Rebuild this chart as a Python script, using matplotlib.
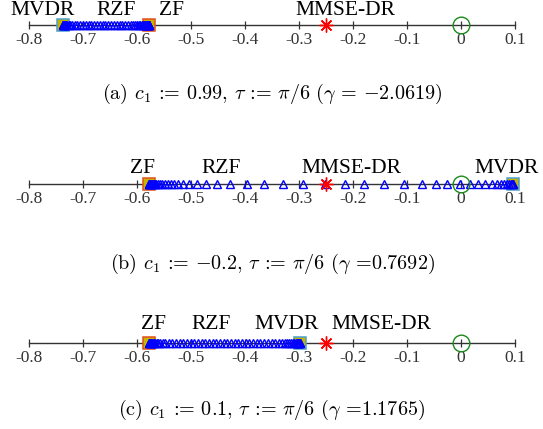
import matplotlib
matplotlib.use("Agg")
import matplotlib.pyplot as plt

plt.rcParams['axes.unicode_minus'] = False
plt.rcParams['mathtext.fontset'] = 'cm'
SERIF = ['Liberation Serif', 'DejaVu Serif']

# Tick positions and labels shared by all three number lines
tick_values = [-0.8, -0.7, -0.6, -0.5, -0.4, -0.3, -0.2, -0.1, 0.0, 0.1]
tick_labels = ['-0.8', '-0.7', '-0.6', '-0.5', '-0.4', '-0.3', '-0.2', '-0.1', '0', '0.1']

# Reference points
origin = 0.0
mmse_dr = -0.25

# (a) c1 = 0.99
mvdr_a = -0.7374
zf_a = -0.5774
rzf_a = [-0.7374, -0.7372, -0.7368, -0.7362, -0.7354, -0.7343, -0.7329, -0.7311,
         -0.7289, -0.7263, -0.7232, -0.7196, -0.7156, -0.7104, -0.7052, -0.7000,
         -0.6948, -0.6896, -0.6844, -0.6792, -0.6740, -0.6688, -0.6636, -0.6584,
         -0.6532, -0.6480, -0.6428, -0.6376, -0.6324, -0.6272, -0.6220, -0.6168,
         -0.6120, -0.6076, -0.6036, -0.6000, -0.5968, -0.5940, -0.5915, -0.5893,
         -0.5873, -0.5855, -0.5840, -0.5827, -0.5815, -0.5805, -0.5797, -0.5790,
         -0.5784, -0.5780, -0.5777, -0.5775, -0.5774]

# (b) c1 = -0.2
mvdr_b = 0.0965
zf_b = -0.5774
rzf_b = [-0.5774, -0.5772, -0.5769, -0.5765, -0.5759, -0.5751, -0.5741, -0.5728,
         -0.5712, -0.5692, -0.5668, -0.5640, -0.5608, -0.5572, -0.5532, -0.5486,
         -0.5434, -0.5376, -0.5312, -0.5240, -0.5143, -0.5031, -0.4894, -0.4728,
         -0.4513, -0.4278, -0.3957, -0.3648, -0.3291, -0.2920, -0.2519, -0.2148,
         -0.1791, -0.1420, -0.1056, -0.0728, -0.0469, -0.0254, -0.0019, 0.0167,
         0.0320, 0.0444, 0.0569, 0.0661, 0.0740, 0.0805, 0.0858, 0.0898,
         0.0927, 0.0946, 0.0958, 0.0965]

# (c) c1 = 0.1
mvdr_c = -0.2981
zf_c = -0.5774
rzf_c = [-0.5774, -0.5772, -0.5768, -0.5762, -0.5754, -0.5743, -0.5729, -0.5712,
         -0.5691, -0.5666, -0.5637, -0.5604, -0.5567, -0.5526, -0.5481, -0.5413,
         -0.5345, -0.5277, -0.5209, -0.5141, -0.5073, -0.5005, -0.4937, -0.4869,
         -0.4801, -0.4733, -0.4665, -0.4597, -0.4529, -0.4461, -0.4393, -0.4325,
         -0.4257, -0.4189, -0.4121, -0.4053, -0.3985, -0.3917, -0.3849, -0.3781,
         -0.3713, -0.3645, -0.3577, -0.3509, -0.3441, -0.3377, -0.3319, -0.3267,
         -0.3221, -0.3180, -0.3144, -0.3113, -0.3086, -0.3063, -0.3043, -0.3026,
         -0.3012, -0.3001, -0.2993, -0.2987, -0.2983, -0.2981]

captions = [
    r"(a) $c_1$ := 0.99, $\tau$ := $\pi$/6 ($\gamma$ = $-$2.0619)",
    r"(b) $c_1$ := $-$0.2, $\tau$ := $\pi$/6 ($\gamma$ =0.7692)",
    r"(c) $c_1$ := 0.1, $\tau$ := $\pi$/6 ($\gamma$ =1.1765)",
]

# label text, x position (data), height above the line (points)
labels_a = [("MVDR", -0.774, 7.2), ("RZF", -0.639, 7.2), ("ZF", -0.537, 7.2), ("MMSE-DR", -0.214, 7.2)]
labels_b = [("ZF", -0.590, 7.9), ("RZF", -0.444, 7.9), ("MMSE-DR", -0.2024, 7.9), ("MVDR", 0.0846, 7.9)]
labels_c = [("ZF", -0.570, 10.0), ("RZF", -0.463, 10.0), ("MVDR", -0.322, 10.0), ("MMSE-DR", -0.147, 10.0)]

panels = [
    (mvdr_a, zf_a, rzf_a, labels_a, 25, 94),
    (mvdr_b, zf_b, rzf_b, labels_b, 184, 264),
    (mvdr_c, zf_c, rzf_c, labels_c, 343, 410),
]

W, H = 543, 429
fig = plt.figure(figsize=(W / 100, H / 100), dpi=100)

x0, x1 = 29, 515
SQ_FILL = '#c8b400'
BLUE = '#0000ff'

for (mvdr, zf, rzf, labels, yline, ycap), cap in zip(panels, captions):
    h = 20
    ax = fig.add_axes([x0 / W, (H - yline - h / 2) / H, (x1 - x0) / W, h / H])
    ax.set_xlim(-0.8, 0.1)
    ax.set_ylim(-1, 1)
    ax.patch.set_visible(False)
    for s in ('top', 'left', 'right'):
        ax.spines[s].set_visible(False)
    ax.spines['bottom'].set_position(('data', 0))
    ax.spines['bottom'].set_color('#333333')
    ax.spines['bottom'].set_linewidth(1.0)
    ax.set_yticks([])
    ax.set_xticks(tick_values)
    ax.set_xticklabels(tick_labels, fontfamily=SERIF, fontsize=12.5, color='#333333')
    ax.tick_params(axis='x', direction='inout', length=5.5, width=0.9,
                   color='#333333', pad=2)

    # RZF trajectory
    ax.plot(rzf, [0] * len(rzf), linestyle='none', marker='^', ms=6,
            mfc='none', mec=BLUE, mew=1.0, clip_on=False, zorder=4)
    # MVDR and ZF end points
    ax.plot([mvdr], [0], marker='s', ms=8.5, mfc=SQ_FILL, mec='#4a9fd0',
            mew=1.1, linestyle='none', clip_on=False, zorder=3)
    ax.plot([zf], [0], marker='s', ms=8.5, mfc=SQ_FILL, mec='#e0501a',
            mew=1.1, linestyle='none', clip_on=False, zorder=3)
    # MMSE-DR
    ax.plot([mmse_dr], [0], marker=(8, 2, 0), ms=10, mec='#ff0000', mew=1.0,
            linestyle='none', clip_on=False, zorder=5)
    # origin
    ax.plot([origin], [0], marker='o', ms=12, mfc='none', mec='#1a8a1a',
            mew=1.0, linestyle='none', clip_on=False, zorder=5)

    for txt, xv, dy in labels:
        ax.annotate(txt, xy=(xv, 0), xytext=(0, dy), textcoords='offset points',
                    ha='center', va='baseline', fontfamily=SERIF, fontsize=15.5,
                    annotation_clip=False)

    fig.text(272 / W, 1 - ycap / H, cap, ha='center', va='center',
             fontsize=14.5, fontfamily='cmr10')

fig.savefig('out.png', dpi=100)
